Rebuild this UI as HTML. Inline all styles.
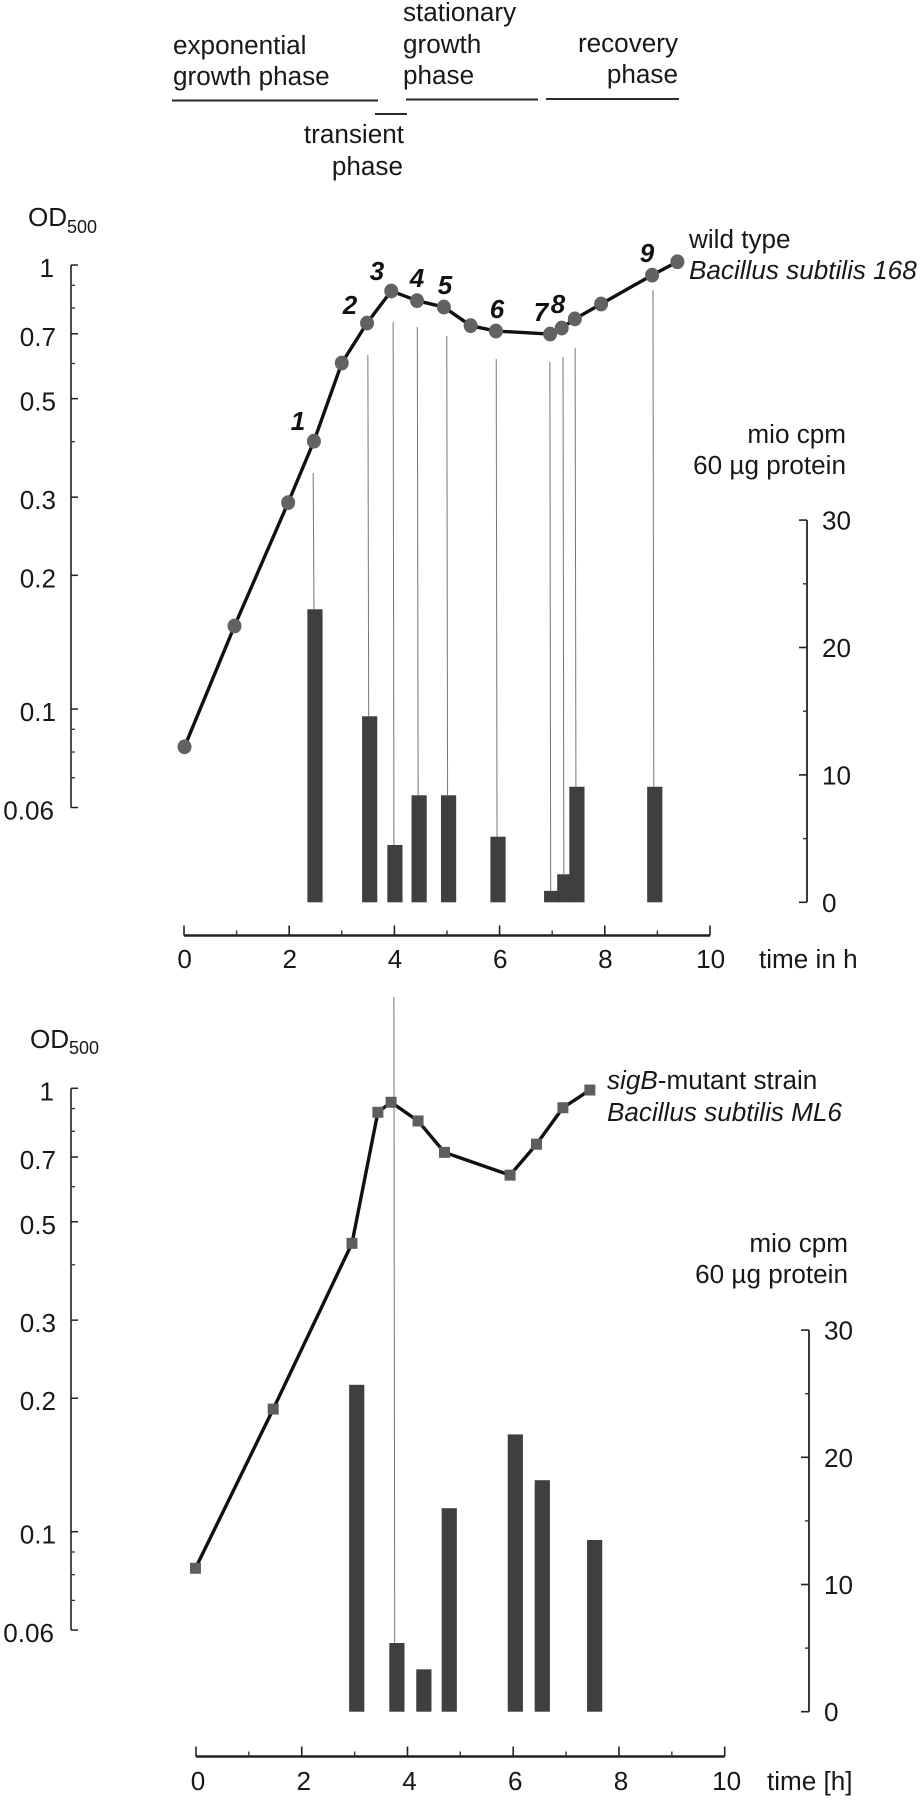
<!DOCTYPE html>
<html lang="en">
<head>
<meta charset="utf-8">
<title>Growth phases of Bacillus subtilis</title>
<style>
html,body{margin:0;padding:0;background:#fff;width:920px;height:1800px;overflow:hidden}
svg{display:block}
text{font-family:"Liberation Sans",Arial,sans-serif;font-size:26.1px;fill:#181818}
.num{font-weight:bold;font-style:italic;text-anchor:middle;font-size:26px;fill:#111}
.end{text-anchor:end}
.it{font-style:italic}
.sub{font-size:18px}
.rule{stroke:#2a2a2a;stroke-width:2}
</style>
</head>
<body>
<svg id="figure" xmlns="http://www.w3.org/2000/svg" width="920" height="1800" viewBox="0 0 920 1800">
  <g>
    <text x="173" y="54">exponential</text>
    <text x="173" y="85">growth phase</text>
    <line class="rule" x1="172" y1="100.5" x2="378" y2="100.5"/>
    <line class="rule" x1="375" y1="114" x2="407" y2="114"/>
    <text class="end" x="404" y="143">transient</text>
    <text class="end" x="403" y="175">phase</text>
    <text x="403" y="21">stationary</text>
    <text x="403" y="53">growth</text>
    <text x="403" y="84">phase</text>
    <line class="rule" x1="406" y1="99.5" x2="538" y2="99.5"/>
    <text class="end" x="678" y="52">recovery</text>
    <text class="end" x="678" y="83">phase</text>
    <line class="rule" x1="546" y1="99" x2="679" y2="99"/>
  </g>

  <g id="panel-top">
    <text x="28" y="226">OD</text>
    <text class="sub" x="67" y="233">500</text>
    <text x="689" y="248">wild type</text>
    <text class="it" x="689" y="279">Bacillus subtilis 168</text>
    <text class="end" x="846" y="443">mio cpm</text>
    <text class="end" x="846" y="474">60 µg protein</text>
    <text x="759" y="968">time in h</text>
    <g id="top-plot"></g>
    <g>
      <text class="num" x="298" y="430">1</text>
      <text class="num" x="350" y="314">2</text>
      <text class="num" x="377" y="280">3</text>
      <text class="num" x="417" y="287">4</text>
      <text class="num" x="445" y="294">5</text>
      <text class="num" x="497" y="318">6</text>
      <text class="num" x="541" y="321">7</text>
      <text class="num" x="558" y="313">8</text>
      <text class="num" x="647" y="262">9</text>
    </g>
  </g>

  <g id="panel-bottom">
    <text x="30" y="1048">OD</text>
    <text class="sub" x="69" y="1054">500</text>
    <text x="607" y="1089"><tspan class="it">sigB</tspan>-mutant strain</text>
    <text class="it" x="607" y="1121">Bacillus subtilis ML6</text>
    <text class="end" x="848" y="1252">mio cpm</text>
    <text class="end" x="848" y="1283">60 µg protein</text>
    <text x="767" y="1790">time [h]</text>
    <g id="bottom-plot"></g>
  </g>
</svg>

<script>
// Shared tick values
const odMajorTicks = [1, 0.7, 0.5, 0.3, 0.2, 0.1, 0.06];
const odMajorLabels = ['1', '0.7', '0.5', '0.3', '0.2', '0.1', '0.06'];
const odMinorTicks = [0.9, 0.8, 0.6, 0.4, 0.09, 0.08, 0.07];
const cpmMajorTicks = [0, 10, 20, 30];
const cpmMinorTicks = [5, 15, 25];
const timeMajorTicks = [0, 2, 4, 6, 8, 10];
const timeMinorTicks = [1, 3, 5, 7, 9];

// Wild type series
const wtTimes = [0.01, 0.96, 1.98, 2.47, 3.0, 3.48, 3.94, 4.43, 4.94, 5.45, 5.93, 6.96, 7.18, 7.43, 7.93, 8.9, 9.38];
const wtOD = [0.0822, 0.1538, 0.2916, 0.401, 0.6015, 0.74, 0.874, 0.831, 0.804, 0.73, 0.71, 0.699, 0.721, 0.756, 0.817, 0.949, 1.017];
const wtBarTimes = [2.49, 3.53, 4.01, 4.47, 5.03, 5.97, 6.99, 7.24, 7.47, 8.95];
const wtBarValues = [23.0, 14.6, 4.5, 8.4, 8.4, 5.15, 0.9, 2.2, 9.07, 9.07];
const wtGuideTops = [0.34, 0.627, 0.744, 0.725, 0.692, 0.614, 0.605, 0.621, 0.65, 0.878];

// sigB mutant series
const mutTimes = [-0.01, 1.46, 2.95, 3.44, 3.69, 4.2, 4.7, 5.94, 6.44, 6.94, 7.45];
const mutOD = [0.0827, 0.189, 0.447, 0.883, 0.93, 0.844, 0.717, 0.637, 0.748, 0.904, 0.991];
const mutBarTimes = [3.04, 3.8, 4.31, 4.79, 6.04, 6.55, 7.54];
const mutBarValues = [25.7, 5.4, 3.33, 16.0, 21.8, 18.2, 13.5];
const mutGuideTops = [0, 1.607, 0, 0, 0, 0, 0];

const NS = 'http://www.w3.org/2000/svg';

function make(parent, tag, attrs, name) {
  const el = document.createElementNS(NS, tag);
  for (const k in attrs) el.setAttribute(k, attrs[k]);
  
  
  parent.appendChild(el);
  return el;
}

function drawPanel(root, cfg) {
  const xOf = t => cfg.x0 + cfg.xStep * t;
  const yOf = v => cfg.odTop - cfg.decade * Math.log10(v);
  const cpmOf = v => cfg.cpmBase - cfg.cpmStep * v;

  // OD axis
  make(root, 'line', {x1: cfg.leftX, x2: cfg.leftX, y1: yOf(1), y2: yOf(0.06), stroke: '#222', 'stroke-width': 1.6}, 'od-axis-line');
  odMajorTicks.forEach((v, i) => {
    make(root, 'line', {x1: cfg.leftX, x2: cfg.leftX + 7, y1: yOf(v), y2: yOf(v), stroke: '#222', 'stroke-width': 1.5}, 'od-tick');
    const label = make(root, 'text', {x: v === 0.06 || v === 1 ? 54 : 56, y: yOf(v) + 12, 'text-anchor': 'end'}, 'od-tick-label');
    label.textContent = odMajorLabels[i];
  });
  odMinorTicks.forEach(v => {
    make(root, 'line', {x1: cfg.leftX, x2: cfg.leftX + 4, y1: yOf(v), y2: yOf(v), stroke: '#333', 'stroke-width': 1.3}, 'od-minor-tick');
  });

  // cpm axis
  make(root, 'line', {x1: cfg.rightX, x2: cfg.rightX, y1: cpmOf(30), y2: cpmOf(0), stroke: '#222', 'stroke-width': 1.8}, 'cpm-axis-line');
  cpmMajorTicks.forEach(v => {
    make(root, 'line', {x1: cfg.rightX - 8, x2: cfg.rightX, y1: cpmOf(v), y2: cpmOf(v), stroke: '#222', 'stroke-width': 1.6}, 'cpm-tick');
    const label = make(root, 'text', {x: cfg.rightX + 15, y: cpmOf(v) + 9.5}, 'cpm-tick-label');
    label.textContent = String(v);
  });
  cpmMinorTicks.forEach(v => {
    make(root, 'line', {x1: cfg.rightX - 4, x2: cfg.rightX, y1: cpmOf(v), y2: cpmOf(v), stroke: '#333', 'stroke-width': 1.4}, 'cpm-minor-tick');
  });

  // time axis
  make(root, 'line', {x1: xOf(0), x2: xOf(10), y1: cfg.axisY, y2: cfg.axisY, stroke: '#222', 'stroke-width': 2.6}, 'time-axis-line');
  timeMajorTicks.forEach(t => {
    make(root, 'line', {x1: xOf(t), x2: xOf(t), y1: cfg.axisY - 10, y2: cfg.axisY, stroke: '#222', 'stroke-width': 1.6}, 'time-tick');
    const label = make(root, 'text', {x: xOf(t) + cfg.labelShift, y: cfg.labelY, 'text-anchor': 'middle'}, 'time-tick-label');
    label.textContent = String(t);
  });
  timeMinorTicks.forEach(t => {
    make(root, 'line', {x1: xOf(t), x2: xOf(t), y1: cfg.axisY - 5, y2: cfg.axisY, stroke: '#333', 'stroke-width': 1.4}, 'time-minor-tick');
  });

  // guide lines
  cfg.guideTops.forEach((v, i) => {
    if (!v) return;
    const gx = xOf(cfg.barTimes[i]) + cfg.guideShift;
    make(root, 'line', {x1: gx - 0.8, x2: gx, y1: yOf(v), y2: cpmOf(cfg.barValues[i]), stroke: '#777', 'stroke-width': 1}, 'guide-line');
  });

  // bars
  cfg.barTimes.forEach((t, i) => {
    const top = cpmOf(cfg.barValues[i]);
    make(root, 'rect', {x: xOf(t) - 7.6, y: top, width: 15.2, height: cfg.cpmBase - top, fill: '#3f3f3f'}, 'activity-bar');
  });

  // OD curve
  const pts = cfg.times.map((t, i) => xOf(t) + ',' + yOf(cfg.od[i])).join(' ');
  make(root, 'polyline', {points: pts, fill: 'none', stroke: '#111', 'stroke-width': cfg.lineWidth, 'stroke-linejoin': 'round'}, 'od-curve');

  // markers
  cfg.times.forEach((t, i) => {
    const cx = xOf(t), cy = yOf(cfg.od[i]);
    if (cfg.square) {
      make(root, 'rect', {x: cx - 5.5, y: cy - 5.5, width: 11, height: 11, fill: '#5e5e5e'}, 'od-point');
    } else {
      make(root, 'ellipse', {cx: cx, cy: cy, rx: 7, ry: 7.4, fill: '#626262'}, 'od-point');
    }
  });
}

drawPanel(document.getElementById('top-plot'), {
  x0: 184, xStep: 52.6, odTop: 265, decade: 444, cpmBase: 902.3, cpmStep: 12.74,
  leftX: 71, rightX: 807, axisY: 935.5, labelY: 968, labelShift: 0.6, guideShift: -1,
  lineWidth: 3.4, square: false,
  times: wtTimes, od: wtOD, barTimes: wtBarTimes, barValues: wtBarValues, guideTops: wtGuideTops
});

drawPanel(document.getElementById('bottom-plot'), {
  x0: 196, xStep: 52.87, odTop: 1088.3, decade: 443.4, cpmBase: 1711.7, cpmStep: 12.72,
  leftX: 71, rightX: 809, axisY: 1756.5, labelY: 1790, labelShift: 2, guideShift: -2.2,
  lineWidth: 3.4, square: true,
  times: mutTimes, od: mutOD, barTimes: mutBarTimes, barValues: mutBarValues, guideTops: mutGuideTops
});
</script>
</body>
</html>
